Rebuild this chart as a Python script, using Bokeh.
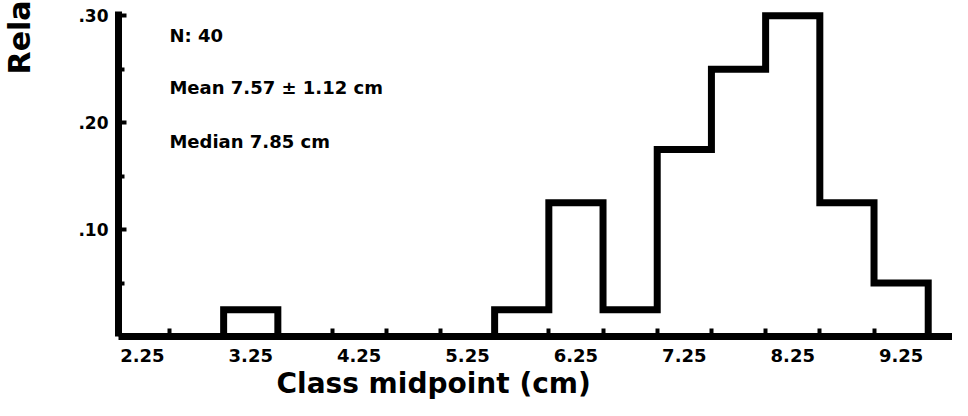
import math
from bokeh.plotting import figure
from bokeh.models import FixedTicker, Range1d, Label, Title
from bokeh.embed import file_html
from bokeh.resources import INLINE

# ---- data ----
class_midpoints = [2.25, 2.75, 3.25, 3.75, 4.25, 4.75, 5.25, 5.75,
                   6.25, 6.75, 7.25, 7.75, 8.25, 8.75, 9.25]
relative_freq = [0.0, 0.0, 0.025, 0.0, 0.0, 0.0, 0.0, 0.025,
                 0.125, 0.025, 0.175, 0.25, 0.30, 0.125, 0.05]
class_width = 0.5
x_tick_values = [2.25, 3.25, 4.25, 5.25, 6.25, 7.25, 8.25, 9.25]
x_tick_labels = ["2.25", "3.25", "4.25", "5.25", "6.25", "7.25", "8.25", "9.25"]
y_tick_values = [0.10, 0.20, 0.30]
y_tick_labels = [".10", ".20", ".30"]
stats_lines = ["N: 40", "Mean 7.57 \u00b1 1.12 cm", "Median 7.85 cm"]
x_title = "Class midpoint (cm)"
y_title_visible = "Rela"

# ---- step outline built from the bins ----
half = class_width / 2.0
xs = [class_midpoints[0] - half]
ys = [0.0]
for m, v in zip(class_midpoints, relative_freq):
    xs += [m - half, m + half]
    ys += [v, v]
xs.append(class_midpoints[-1] + half)
ys.append(0.0)

edges = [m + half for m in class_midpoints]

p = figure(width=952, height=400, output_backend="svg", toolbar_location=None,
           x_range=Range1d(2.03, 9.724), y_range=Range1d(0.0, 0.304),
           min_border_left=118, min_border_right=0, min_border_top=11,
           min_border_bottom=64)
p.background_fill_color = "white"
p.border_fill_color = "white"
p.outline_line_color = None
p.xgrid.visible = False
p.ygrid.visible = False

p.line(xs, ys, line_color="black", line_width=7, line_join="miter")

FONT = "DejaVu Sans"

xa = p.xaxis[0]
xa.ticker = FixedTicker(ticks=x_tick_values, minor_ticks=edges)
xa.major_label_overrides = {v: s for v, s in zip(x_tick_values, x_tick_labels)}
xa.major_tick_in = 0
xa.major_tick_out = 0
xa.minor_tick_in = 8
xa.minor_tick_out = 0
xa.minor_tick_line_width = 4
xa.minor_tick_line_color = "black"
xa.axis_line_width = 7
xa.axis_line_color = "black"
xa.major_label_text_font = FONT
xa.major_label_text_font_style = "bold"
xa.major_label_text_font_size = "18px"
xa.major_label_text_color = "black"
xa.major_label_standoff = 12

ya = p.yaxis[0]
ya.ticker = FixedTicker(ticks=y_tick_values, minor_ticks=[0.05, 0.15, 0.25])
ya.major_label_overrides = {v: s for v, s in zip(y_tick_values, y_tick_labels)}
ya.major_tick_in = 8
ya.major_tick_out = 0
ya.major_tick_line_width = 4
ya.major_tick_line_color = "black"
ya.minor_tick_in = 6
ya.minor_tick_out = 0
ya.minor_tick_line_width = 4
ya.minor_tick_line_color = "black"
ya.axis_line_width = 7
ya.axis_line_color = "black"
ya.major_label_text_font = FONT
ya.major_label_text_font_style = "bold"
ya.major_label_text_font_size = "17px"
ya.major_label_text_color = "black"
ya.major_label_standoff = 10
# blank axis label only used as spacing so the cropped title sits at the far left
ya.axis_label = " "
ya.axis_label_text_font_size = "10px"
ya.axis_label_standoff = 23

# stats annotations
for txt, yv in zip(stats_lines, [0.282, 0.2327, 0.1822]):
    p.add_layout(Label(x=2.50, y=yv, text=txt, text_font=FONT,
                       text_font_style="bold", text_font_size="18px",
                       text_color="black", text_baseline="alphabetic"))

# x axis title (off-centre, as in the reference)
p.add_layout(Title(text=x_title, text_font=FONT, text_font_style="bold",
                   text_font_size="28px", text_color="black",
                   align="left", offset=158, standoff=0), "below")

# y axis title (cropped in the reference; only the visible part)
p.add_layout(Title(text=y_title_visible, text_font=FONT, text_font_style="bold",
                   text_font_size="30px", text_color="black",
                   align="right", offset=-11, standoff=0,
                   vertical_align="top"), "left")

open("out.html", "w").write(file_html(p, INLINE))
